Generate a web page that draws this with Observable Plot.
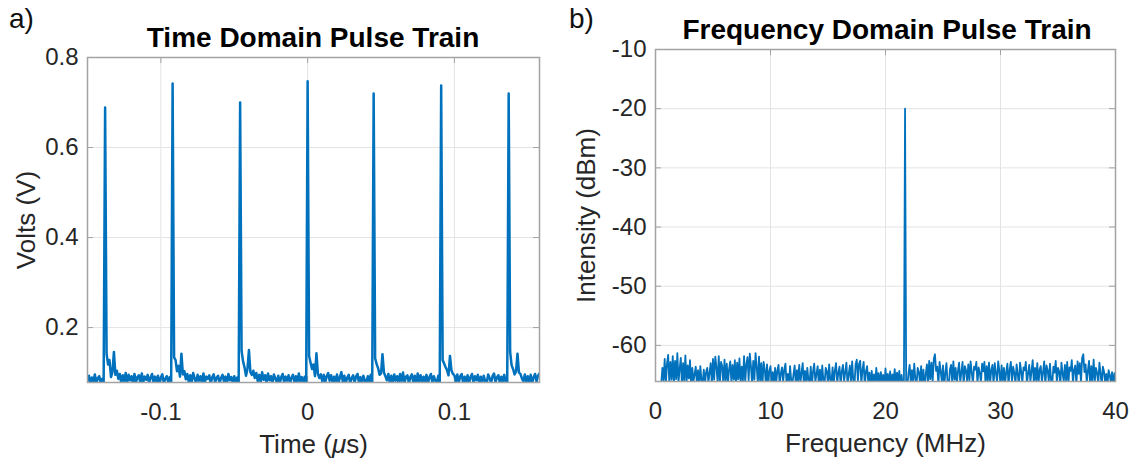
<!DOCTYPE html>
<html>
<head>
<meta charset="utf-8">
<script src="https://cdn.jsdelivr.net/npm/d3@7"></script>
<script src="https://cdn.jsdelivr.net/npm/@observablehq/plot@0.6"></script>
<style>
  body { margin: 0; background: #fff; }
  #wrap { position: relative; width: 1135px; height: 465px; overflow: hidden;
          font-family: "Liberation Sans", Arial, sans-serif; color: #000; }
  .panel { position: absolute; top: 0; }
  .title { position: absolute; font-weight: bold; font-size: 28px; white-space: nowrap;
           transform: translateX(-50%); line-height: 1; }
  .tag { position: absolute; font-size: 28px; line-height: 1; color: #111; }
</style>
</head>
<body>
<div id="wrap">
  <div class="tag" style="left:9px;top:5px">a)</div>
  <div class="tag" style="left:569px;top:5px">b)</div>
  <div class="title" style="left:313px;top:24px">Time Domain Pulse Train</div>
  <div class="title" style="left:887px;top:16px">Frequency Domain Pulse Train</div>
  <div id="left" class="panel" style="left:0"></div>
  <div id="right" class="panel" style="left:560px"></div>
</div>
<script>
// Oscilloscope trace: one sample every 1 ns starting at -0.150 µs
const timeStart = -0.150;
const timeStep = 0.001;
const volts = [
  0.082,0.093,0.076,0.089,0.079,0.096,0.075,0.088,0.092,0.077,
  0.086,0.074,0.689,0.142,0.118,0.128,0.090,0.101,0.146,0.095,
  0.104,0.086,0.097,0.077,0.094,0.081,0.099,0.076,0.095,0.083,
  0.092,0.075,0.097,0.078,0.090,0.094,0.077,0.098,0.079,0.091,
  0.084,0.095,0.076,0.089,0.097,0.078,0.091,0.080,0.093,0.075,
  0.089,0.096,0.077,0.086,0.092,0.079,0.090,0.072,0.742,0.134,
  0.128,0.103,0.115,0.091,0.142,0.096,0.103,0.085,0.097,0.079,
  0.094,0.078,0.099,0.088,0.076,0.095,0.082,0.092,0.077,0.098,
  0.079,0.091,0.086,0.094,0.075,0.090,0.096,0.078,0.089,0.093,
  0.076,0.088,0.095,0.080,0.091,0.077,0.097,0.083,0.090,0.078,
  0.092,0.079,0.089,0.071,0.700,0.148,0.125,0.112,0.093,0.108,
  0.150,0.101,0.095,0.104,0.088,0.099,0.081,0.095,0.079,0.101,
  0.084,0.094,0.077,0.098,0.083,0.092,0.076,0.096,0.087,0.079,
  0.093,0.075,0.090,0.097,0.078,0.091,0.082,0.094,0.076,0.089,
  0.095,0.079,0.092,0.077,0.098,0.081,0.090,0.076,0.091,0.072,
  0.747,0.137,0.122,0.108,0.118,0.092,0.143,0.097,0.088,0.096,
  0.080,0.095,0.078,0.092,0.099,0.082,0.094,0.077,0.091,0.080,
  0.096,0.076,0.090,0.101,0.079,0.093,0.077,0.089,0.095,0.075,
  0.088,0.094,0.078,0.091,0.097,0.077,0.090,0.075,0.093,0.082,
  0.077,0.092,0.081,0.095,0.071,0.720,0.132,0.119,0.110,0.095,
  0.098,0.141,0.100,0.092,0.083,0.097,0.078,0.093,0.077,0.096,
  0.082,0.092,0.076,0.097,0.081,0.100,0.078,0.091,0.094,0.076,
  0.090,0.096,0.079,0.093,0.075,0.098,0.081,0.094,0.077,0.091,
  0.080,0.095,0.076,0.090,0.097,0.078,0.092,0.082,0.077,0.093,
  0.072,0.738,0.128,0.120,0.112,0.105,0.094,0.137,0.105,0.097,
  0.094,0.081,0.096,0.078,0.092,0.097,0.076,0.091,0.080,0.094,
  0.076,0.090,0.097,0.079,0.092,0.083,0.095,0.076,0.091,0.079,
  0.093,0.081,0.075,0.096,0.088,0.077,0.092,0.098,0.079,0.089,
  0.094,0.077,0.091,0.081,0.095,0.078,0.073,0.720,0.146,0.116,
  0.108,0.096,0.102,0.142,0.100,0.097,0.087,0.081,0.096,0.078,
  0.092,0.079,0.095,0.076,0.090,0.097,0.080,0.093,0.098
];
const timeTicks = [-0.1, 0, 0.1];
const voltTicks = [0.2, 0.4, 0.6, 0.8];
const timeDomain = [-0.150, 0.158];
const voltDomain = [0.078, 0.8];

// RF spectrum: one bin every 0.1 MHz starting at 0.5 MHz
const freqStart = 0.5;
const freqStep = 0.1;
const intensity = [
  -66.4,-63.8,-65.9,-62.3,-66.6,-63.1,-61.6,-66.2,-62.8,-65.8,
  -61.8,-66.5,-62.6,-65.7,-61.3,-66.3,-63.9,-62.1,-66.8,-63.0,
  -65.9,-61.7,-66.4,-63.4,-65.6,-62.5,-66.9,-63.8,-66.1,-64.9,
  -63.6,-66.5,-64.2,-66.8,-63.5,-65.9,-66.4,-64.1,-66.7,-64.5,
  -63.8,-66.3,-64.6,-63.0,-66.6,-62.3,-65.8,-61.9,-63.7,-66.2,
  -61.8,-66.4,-62.8,-63.5,-66.7,-62.4,-65.9,-63.1,-66.5,-64.0,
  -62.7,-66.2,-63.3,-65.8,-62.5,-66.9,-62.9,-65.7,-62.2,-66.4,
  -63.6,-66.0,-61.8,-66.3,-63.2,-62.0,-65.9,-61.4,-63.5,-66.6,
  -62.6,-65.8,-61.3,-63.7,-66.5,-61.9,-66.1,-63.0,-66.8,-62.8,
  -64.1,-66.6,-63.2,-66.9,-64.3,-63.5,-66.4,-64.5,-66.8,-63.8,
  -66.3,-64.2,-63.3,-66.7,-64.7,-63.7,-66.2,-64.0,-63.1,-66.6,
  -64.8,-66.9,-63.5,-65.9,-66.5,-64.9,-63.4,-66.7,-64.2,-66.0,
  -63.3,-66.4,-64.6,-63.0,-66.8,-64.3,-66.5,-63.8,-65.9,-66.3,
  -63.6,-66.9,-64.4,-63.1,-66.2,-64.8,-63.5,-66.6,-64.1,-66.7,
  -63.4,-65.9,-66.5,-63.8,-64.3,-66.8,-63.2,-65.8,-66.2,-63.7,
  -66.6,-64.2,-63.0,-66.4,-64.6,-63.6,-66.9,-64.3,-63.3,-66.1,
  -64.5,-62.9,-66.7,-64.9,-63.4,-66.3,-62.7,-65.9,-66.8,-63.2,
  -62.4,-66.0,-63.1,-62.6,-66.5,-64.1,-62.8,-66.9,-64.4,-63.5,
  -66.2,-64.6,-66.9,-64.3,-66.4,-64.9,-66.7,-63.8,-66.1,-64.7,
  -66.8,-64.5,-66.3,-65.0,-66.9,-63.9,-66.5,-64.8,-66.9,-64.4,
  -66.6,-64.9,-66.3,-64.0,-66.8,-64.6,-66.1,-64.3,-66.7,-65.0,
  -66.9,-67.4,-20.0,-67.5,-66.9,-64.7,-63.3,-66.4,-64.2,-66.1,
  -63.1,-65.8,-66.6,-63.8,-64.5,-66.3,-63.5,-66.9,-64.1,-67.3,
  -64.9,-63.2,-66.5,-62.6,-65.7,-62.9,-66.2,-62.3,-61.5,-64.3,
  -63.6,-66.7,-62.8,-64.4,-66.1,-63.4,-67.2,-64.7,-63.0,-66.4,
  -67.4,-64.1,-63.3,-66.2,-62.7,-65.8,-63.8,-66.6,-64.3,-62.9,
  -66.3,-64.5,-62.8,-66.8,-63.5,-64.2,-66.1,-63.2,-65.9,-62.7,
  -64.6,-66.4,-63.6,-64.1,-62.8,-66.5,-63.7,-64.7,-66.2,-63.1,
  -64.4,-62.8,-66.6,-63.5,-65.9,-62.9,-66.3,-64.2,-63.3,-66.8,
  -63.0,-64.7,-66.1,-62.7,-64.3,-66.7,-63.4,-66.0,-63.8,-66.4,
  -64.5,-63.1,-66.9,-64.1,-62.8,-66.2,-63.6,-64.6,-66.5,-63.2,
  -64.8,-66.9,-62.9,-64.4,-66.3,-63.7,-64.2,-62.8,-66.6,-64.7,
  -63.3,-66.1,-64.3,-62.5,-66.4,-63.8,-65.9,-63.0,-66.7,-64.1,
  -63.5,-66.3,-64.5,-62.7,-66.8,-63.4,-64.2,-66.1,-63.1,-65.9,
  -66.5,-63.6,-64.6,-62.6,-66.2,-63.8,-64.4,-66.9,-62.9,-64.7,
  -66.1,-63.3,-65.9,-62.8,-66.6,-63.7,-64.3,-62.5,-66.4,-64.1,
  -63.4,-66.7,-62.7,-64.8,-63.0,-66.3,-62.1,-61.5,-64.5,-63.2,
  -66.2,-64.3,-62.6,-66.8,-63.5,-65.9,-62.4,-66.1,-63.8,-64.6,
  -66.5,-62.9,-64.7,-66.9,-63.6,-64.4,-66.3,-64.8,-66.7,-64.2,
  -65.0,-66.4,-64.5,-66.9,-64.7,-66.2
];
const freqTicks = [0, 10, 20, 30, 40];
const dbmTicks = [-60, -50, -40, -30, -20, -10];
const freqDomain = [0, 40];
const dbmDomain = [-66.1, -10];

const lineColor = "#0072BD";
const gridColor = "#e3e3e3";
const boxColor = "#a3a3a3";
const textColor = "#262626";
const fmt = d => String(d);

const trace = volts.map((v, i) => ({t: timeStart + i * timeStep, v}));
const spectrum = intensity.map((p, i) => ({f: freqStart + i * freqStep, p}));

// MATLAB-style box: grid, frame and short inward ticks on all four sides
function boxMarks(xTicks, yTicks, frameW, frameH) {
  const tick = 6;
  return [
    Plot.gridX(xTicks, {stroke: gridColor, strokeOpacity: 1}),
    Plot.gridY(yTicks, {stroke: gridColor, strokeOpacity: 1}),
    Plot.tickX(xTicks, {x: d => d, stroke: boxColor, insetBottom: frameH - tick}),
    Plot.tickX(xTicks, {x: d => d, stroke: boxColor, insetTop: frameH - tick}),
    Plot.tickY(yTicks, {y: d => d, stroke: boxColor, insetRight: frameW - tick}),
    Plot.tickY(yTicks, {y: d => d, stroke: boxColor, insetLeft: frameW - tick})
  ];
}

function makePanel(cfg) {
  const frameW = cfg.width - cfg.marginLeft - cfg.marginRight;
  const frameH = cfg.height - cfg.marginTop - cfg.marginBottom;
  const svg = Plot.plot({
    width: cfg.width,
    height: cfg.height,
    marginLeft: cfg.marginLeft,
    marginRight: cfg.marginRight,
    marginTop: cfg.marginTop,
    marginBottom: cfg.marginBottom,
    style: {fontFamily: '"Liberation Sans", Arial, sans-serif', fontSize: "24px", color: textColor, background: "transparent", overflow: "visible"},
    x: {domain: cfg.xDomain},
    y: {domain: cfg.yDomain},
    marks: [
      ...boxMarks(cfg.xTicks, cfg.yTicks, frameW, frameH),
      Plot.axisX(cfg.xTicks, {anchor: "bottom", tickSize: 0, tickPadding: 20, tickFormat: fmt,
        label: cfg.xLabel, labelAnchor: "center", labelArrow: "none", labelOffset: 70}),
      Plot.axisY(cfg.yTicks, {anchor: "left", tickSize: 0, tickPadding: 9, tickFormat: fmt,
        label: cfg.yLabel, labelAnchor: "center", labelArrow: "none", labelOffset: cfg.yLabelOffset}),
      Plot.line(cfg.data, {x: cfg.x, y: cfg.y, stroke: lineColor, strokeWidth: cfg.strokeWidth, clip: true}),
      Plot.frame({stroke: boxColor, strokeWidth: 1.5})
    ]
  });
  d3.select(svg).selectAll('g[aria-label="x-axis label"] text, g[aria-label="y-axis label"] text')
    .attr("font-size", "26px");
  return svg;
}

const leftSvg = makePanel({
  width: 560, height: 465, marginLeft: 87, marginRight: 21, marginTop: 57, marginBottom: 83,
  xDomain: timeDomain, yDomain: voltDomain, xTicks: timeTicks, yTicks: voltTicks,
  xLabel: "Time (μs)", yLabel: "Volts (V)", yLabelOffset: 71,
  data: trace, x: "t", y: "v", strokeWidth: 2.5
});
// italic mu in the time axis label
d3.select(leftSvg).select('g[aria-label="x-axis label"] text').each(function () {
  const t = d3.select(this);
  t.text(null);
  t.append("tspan").text("Time (");
  t.append("tspan").attr("font-style", "italic").text("μ");
  t.append("tspan").text("s)");
});
document.getElementById("left").appendChild(leftSvg);

const rightSvg = makePanel({
  width: 575, height: 465, marginLeft: 95, marginRight: 20, marginTop: 49, marginBottom: 84,
  xDomain: freqDomain, yDomain: dbmDomain, xTicks: freqTicks, yTicks: dbmTicks,
  xLabel: "Frequency (MHz)", yLabel: "Intensity (dBm)", yLabelOffset: 79,
  data: spectrum, x: "f", y: "p", strokeWidth: 1.8
});
document.getElementById("right").appendChild(rightSvg);
</script>
</body>
</html>
